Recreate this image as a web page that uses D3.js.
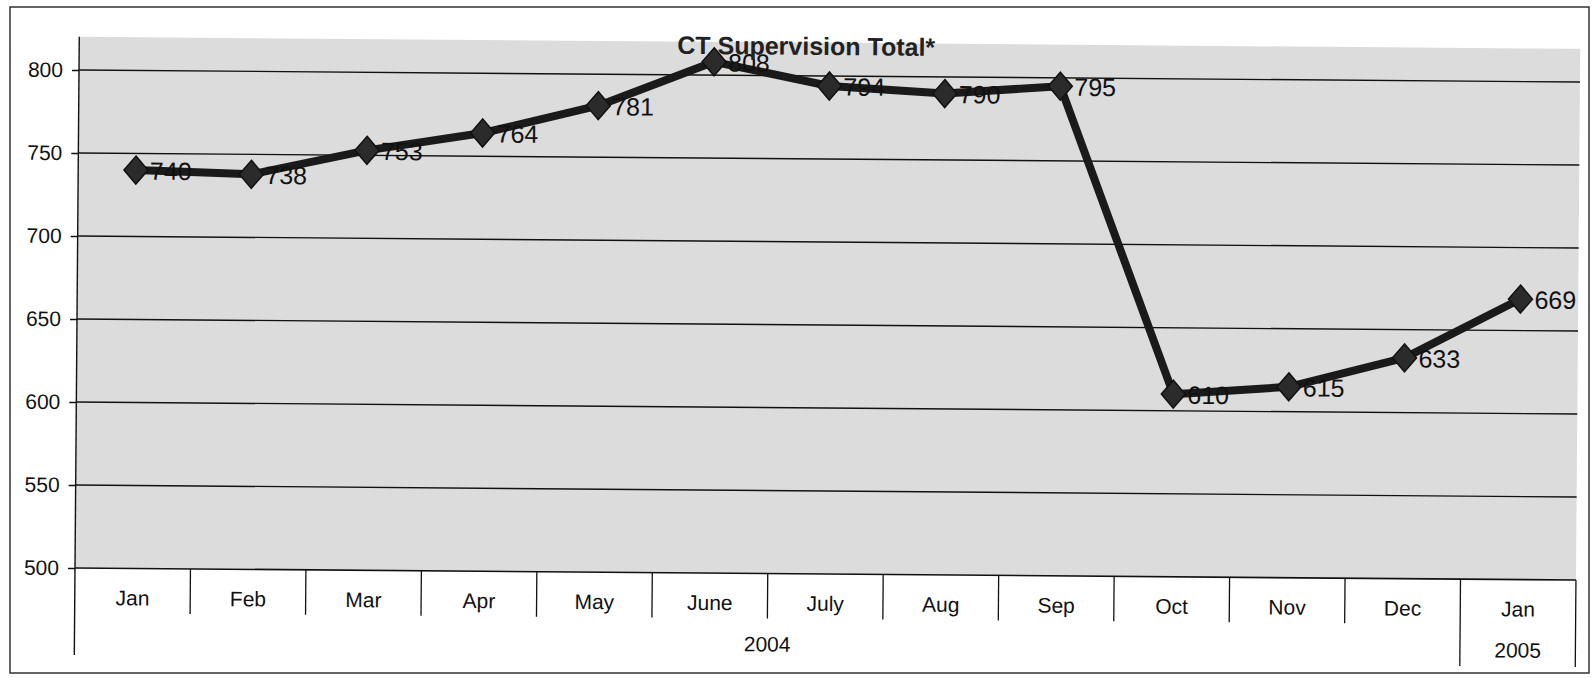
<!DOCTYPE html>
<html>
<head>
<meta charset="utf-8">
<script src="https://cdnjs.cloudflare.com/ajax/libs/d3/7.8.5/d3.min.js"></script>
<style>
  body { margin: 0; background: #fff; }
  svg { display: block; font-family: "Liberation Sans", Arial, sans-serif; }
</style>
</head>
<body>
<svg id="chart" width="1592" height="678"></svg>
<script>
// chart data
var months = ["Jan", "Feb", "Mar", "Apr", "May", "June", "July", "Aug", "Sep", "Oct", "Nov", "Dec", "Jan"];
var totals = [740, 738, 753, 764, 781, 808, 794, 790, 795, 610, 615, 633, 669];
var years = ["2004", "2005"];
var yearSpans = [12, 1];
var yTicks = [500, 550, 600, 650, 700, 750, 800];

var svg = d3.select("#chart");

// outer frame of the scanned page
svg.append("rect")
    .attr("x", 10).attr("y", 7)
    .attr("width", 1579).attr("height", 666)
    .attr("fill", "none")
    .attr("stroke", "#333")
    .attr("stroke-width", 1.5);

var left = 79, right = 1580, axisY = 568;

var x = d3.scaleBand()
    .domain(d3.range(months.length))
    .range([left, right]);

var y = d3.scaleLinear()
    .domain([500, 820])
    .range([axisY, axisY - 320 * 1.66]);

// the scan is slightly tilted
var g = svg.append("g")
    .attr("transform", "rotate(0.46," + left + "," + y(800) + ")");

// plot area
g.append("rect")
    .attr("x", left)
    .attr("y", y(820))
    .attr("width", right - left)
    .attr("height", axisY - y(820))
    .attr("fill", "#dcdcdc");

// gridlines
g.selectAll(".grid")
    .data(yTicks.slice(1))
  .enter().append("line")
    .attr("x1", left).attr("x2", right)
    .attr("y1", function(d) { return y(d); })
    .attr("y2", function(d) { return y(d); })
    .attr("stroke", "#111")
    .attr("stroke-width", 1.4);

// value axis
var yAxis = g.append("g")
    .attr("transform", "translate(" + left + ",0)")
    .call(d3.axisLeft(y).tickValues(yTicks).tickSize(7).tickPadding(9).tickSizeOuter(0));
yAxis.select(".domain").remove();
yAxis.selectAll("line").attr("stroke", "#111").attr("stroke-width", 1.4);
yAxis.selectAll("text")
    .attr("font-size", 21)
    .attr("font-family", "Liberation Sans, Arial, sans-serif")
    .attr("fill", "#111");

// left axis line, running down through the category box
g.append("line")
    .attr("x1", left).attr("x2", left)
    .attr("y1", y(820)).attr("y2", axisY + 87)
    .attr("stroke", "#111").attr("stroke-width", 1.4);

// category axis
g.append("line")
    .attr("x1", left).attr("x2", right)
    .attr("y1", axisY).attr("y2", axisY)
    .attr("stroke", "#111").attr("stroke-width", 1.6);

var xAxis = g.append("g")
    .attr("transform", "translate(0," + axisY + ")")
    .call(d3.axisBottom(x).tickSize(0).tickPadding(22).tickFormat(function(i) { return months[i]; }));
xAxis.select(".domain").remove();
xAxis.selectAll("text")
    .attr("font-size", 21)
    .attr("font-family", "Liberation Sans, Arial, sans-serif")
    .attr("fill", "#111");

// month separators (short) and year separators (long)
var yearEdges = [0];
yearSpans.forEach(function(s, i) { yearEdges.push(yearEdges[i] + s); });

g.selectAll(".sep")
    .data(d3.range(1, months.length + 1))
  .enter().append("line")
    .attr("x1", function(i) { return i < months.length ? x(i) : right; })
    .attr("x2", function(i) { return i < months.length ? x(i) : right; })
    .attr("y1", axisY)
    .attr("y2", function(i) { return yearEdges.indexOf(i) >= 0 ? axisY + 87 : axisY + 45; })
    .attr("stroke", "#111")
    .attr("stroke-width", 1.3);

g.selectAll(".year")
    .data(years)
  .enter().append("text")
    .attr("x", function(d, i) {
      var a = x(yearEdges[i]);
      var b = yearEdges[i + 1] < months.length ? x(yearEdges[i + 1]) : right;
      return (a + b) / 2;
    })
    .attr("y", axisY + 78)
    .attr("text-anchor", "middle")
    .attr("font-size", 21)
    .attr("fill", "#111")
    .text(function(d) { return d; });

// series line
var cx = function(d, i) { return x(i) + x.bandwidth() / 2; };

var line = d3.line()
    .x(cx)
    .y(function(d) { return y(d); });

g.append("path")
    .datum(totals)
    .attr("d", line)
    .attr("fill", "none")
    .attr("stroke", "#1a1a1a")
    .attr("stroke-width", 8)
    .attr("stroke-linejoin", "round");

// diamond markers
g.selectAll(".marker")
    .data(totals)
  .enter().append("path")
    .attr("transform", function(d, i) { return "translate(" + cx(d, i) + "," + y(d) + ")"; })
    .attr("d", "M0,-14L12,0L0,14L-12,0Z")
    .attr("fill", "#2b2b2b")
    .attr("stroke", "#111")
    .attr("stroke-width", 1.5);

// data labels
g.selectAll(".label")
    .data(totals)
  .enter().append("text")
    .attr("x", function(d, i) { return cx(d, i) + 14; })
    .attr("y", function(d) { return y(d); })
    .attr("dy", "0.38em")
    .attr("font-size", 25)
    .attr("fill", "#111")
    .text(function(d) { return d; });

// title
g.append("text")
    .attr("x", 806)
    .attr("y", 49)
    .attr("text-anchor", "middle")
    .attr("font-size", 25)
    .attr("font-weight", "bold")
    .attr("fill", "#222")
    .text("CT Supervision Total*");
</script>
</body>
</html>
